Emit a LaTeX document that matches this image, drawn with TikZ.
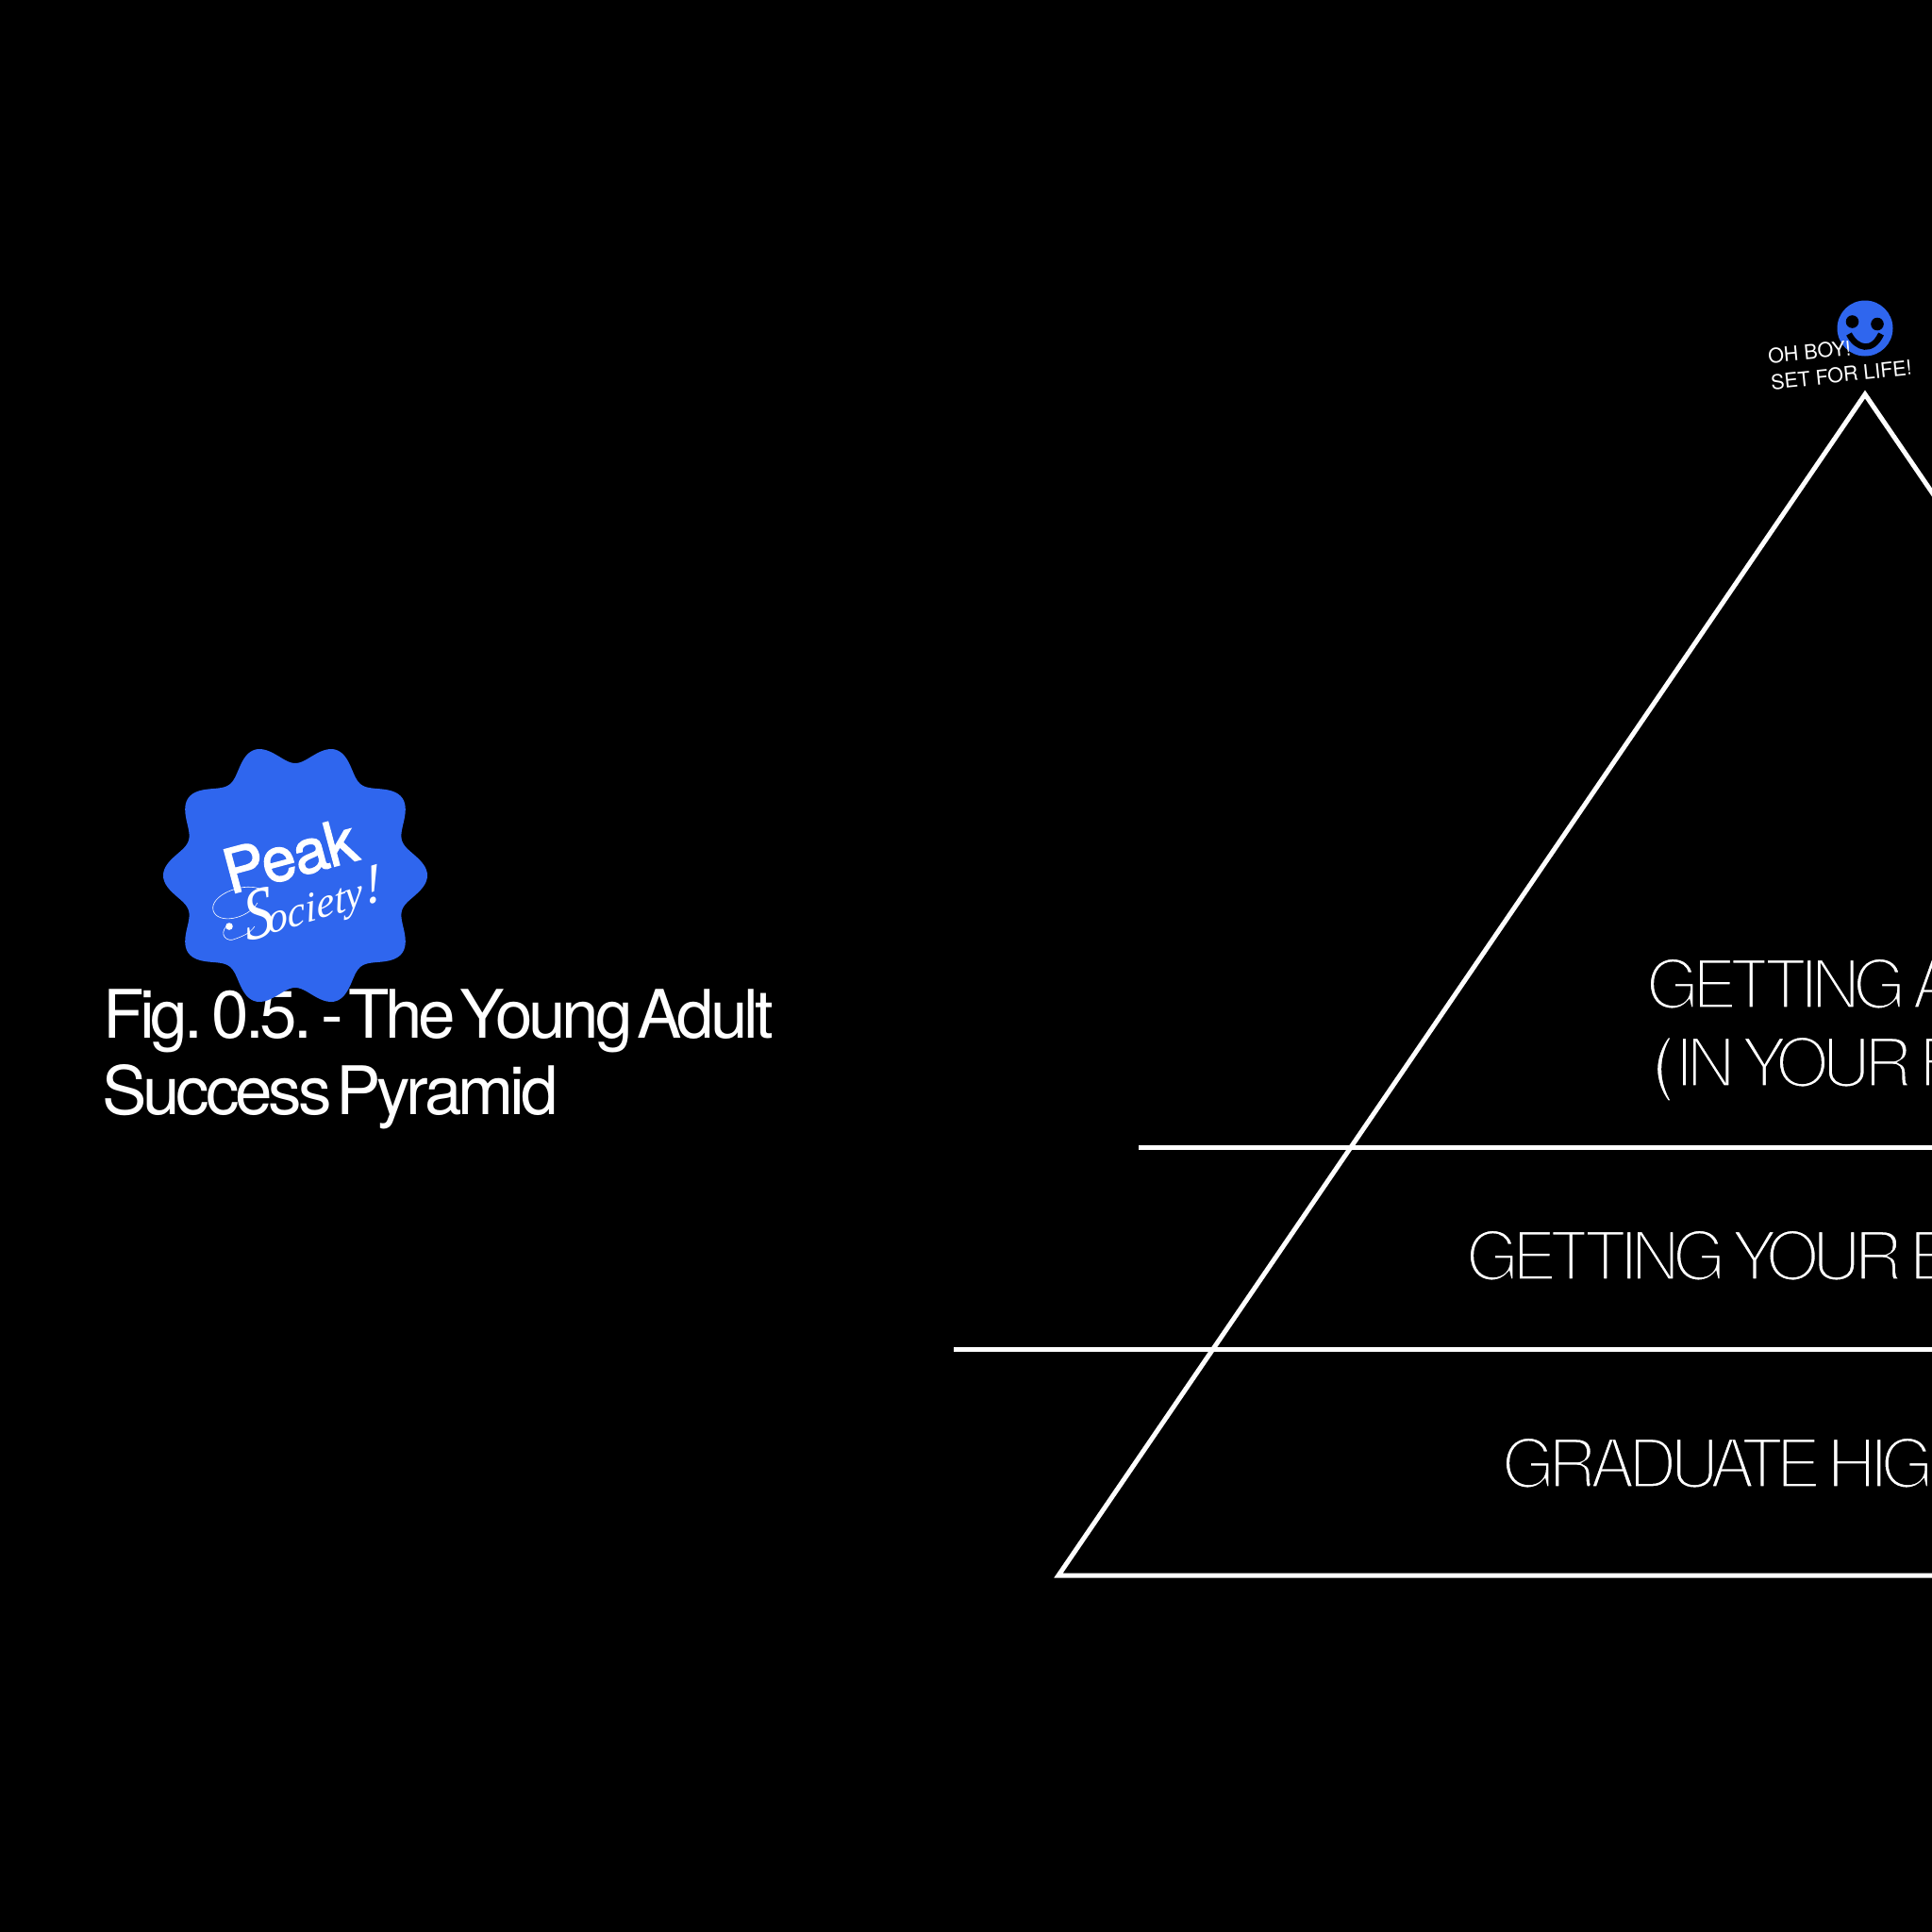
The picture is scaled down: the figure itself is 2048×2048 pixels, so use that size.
\documentclass[tikz,border=0pt]{standalone}
\usepackage{fontspec}
\setmainfont{TeX Gyre Heros}
\newfontfamily\lightfont[LetterSpace=-10.4,WordSpace=0.5]{TeX Gyre Heros}
\newfontfamily\titlefont[LetterSpace=-5.8,WordSpace=0.3]{TeX Gyre Heros}
\newfontfamily\tightbold[LetterSpace=-1.5,FakeBold=2]{TeX Gyre Heros}
\newfontfamily\swashfont[FakeSlant=0.18]{Liberation Serif Italic}
\definecolor{badgeblue}{HTML}{2F66EE}
\newcommand{\hairtext}[2]{\special{pdf:code 2 Tr 0 0 0 RG #1 w}#2\special{pdf:code 0 Tr 1 1 1 RG}}
\tikzset{
  rulestroke/.style={draw=white,line width=5pt},
  txt/.style={text=white,inner sep=0pt,outer sep=0pt,anchor=base west},
  tiertxt/.style={txt,font=\fontsize{72}{72}\lightfont},
  captxt/.style={txt,font=\fontsize{71}{71}\titlefont},
  smalltxt/.style={txt,font=\fontsize{21.5}{21.5}\selectfont}
}
\begin{document}
\begin{tikzpicture}[x=1pt,y=-1pt]
\useasboundingbox (0,0) rectangle (2048,2048);
\fill[black] (0,0) rectangle (2048,2048);
\clip (0,0) rectangle (2048,2048);
% caption
\node[captxt] (cap1) at (109,1100) {Fig. 0.5. - The Young Adult};
\node[captxt] (cap2) at (108,1181) {Success Pyramid};
% badge
\fill[badgeblue] plot[domain=0:360,samples=361,smooth] ({313+(129.5+10.5*cos(10*\x))*cos(\x)},{928+(129.5+10.5*cos(10*\x))*sin(\x)}) -- cycle;
\node[txt,font=\fontsize{65}{65}\tightbold,rotate=15] (peak) at (244,948) {Peak};
\node[txt,rotate=17,font=\swashfont] (soc) at (262,998) {\fontsize{80}{80}\selectfont\scalebox{.8}[.95]{S}\kern-7pt\fontsize{44}{44}\selectfont ociety\kern2pt\fontsize{58}{58}\selectfont !};
\coordinate (sw1) at (275,942);
\draw[white,line width=.6pt] (sw1) .. controls (255,935) and (222,950) .. (226,965) .. controls (230,980) and (262,975) .. (273,957);
\fill[white] (243,982) circle (3.8);
\draw[white,line width=.6pt] (240,982) .. controls (232,990) and (240,1000) .. (250,995) .. controls (258,992) and (264,990) .. (270,982);
% pyramid
\coordinate (apex) at (1977,418);
\coordinate (bl) at (1122,1670);
\coordinate (br) at (2832,1670);
\draw[rulestroke,line join=miter] (apex) -- (bl) -- (br) -- cycle;
\coordinate (r1) at (1207,1216.5);
\coordinate (r1e) at (2048,1216.5);
\coordinate (r2) at (1011,1430.5);
\coordinate (r2e) at (2048,1430.5);
\draw[rulestroke] (r1) -- (r1e);
\draw[rulestroke] (r2) -- (r2e);
% tier labels
\node[tiertxt] (t1) at (1745,1069) {\hairtext{3.4}{GETTING A}};
\node[tiertxt] (t2) at (1751,1152) {\hairtext{1.8}{(}\hairtext{3.4}{IN YOUR F}};
\node[tiertxt] (t3) at (1554,1357) {\hairtext{3.4}{GETTING YOUR E}};
\node[tiertxt] (t4) at (1592,1577) {\hairtext{3.4}{GRADUATE HIGH}};
% smiley
\fill[badgeblue] (1977,348) circle (29.5);
\fill[black] (1963.5,341) circle (6.8);
\fill[black] (1990,343.5) circle (6.8);
\draw[black,line width=6.5pt] (1960,354) .. controls (1968,370) and (1985,374) .. (1994,354);
% small text
\node[smalltxt,rotate=5.5] (oh) at (1875,385) {OH BOY!};
\node[smalltxt,rotate=6] (set) at (1878,413) {SET FOR LIFE!};
\end{tikzpicture}
\end{document}
